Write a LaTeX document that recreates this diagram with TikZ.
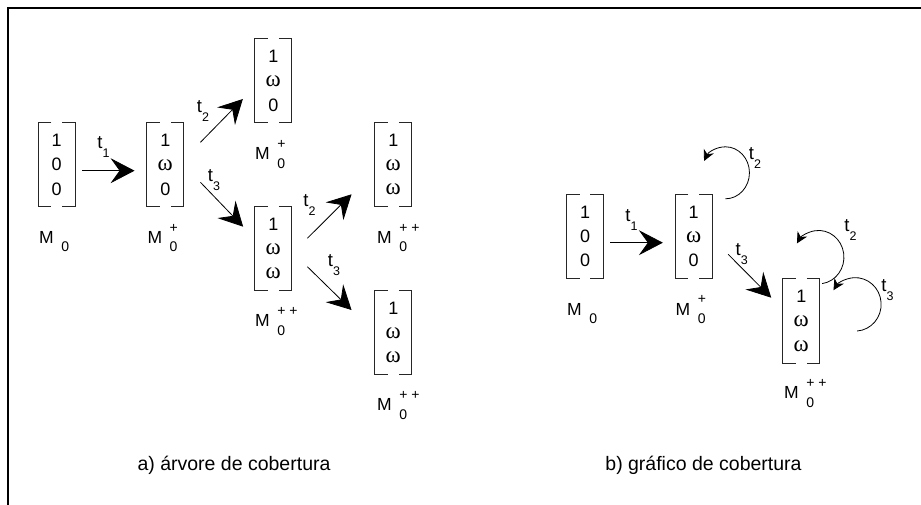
\documentclass[tikz,border=0pt]{standalone}
\usepackage{fontspec}
\setmainfont{Liberation Sans}
\newfontfamily\omegafont{Liberation Serif}
\usetikzlibrary{arrows.meta,calc}

% entries and labels
\newcommand{\om}{{\omegafont\fontsize{23}{24.3}\selectfont ω}}
\newcommand{\subsz}{\fontsize{12.5}{12.5}\selectfont}
\newcommand{\supsz}{\fontsize{14}{14}\selectfont}
\newcommand{\mk}[1]{M\kern7.5pt\rlap{\raisebox{11.1pt}{\supsz #1}}\raisebox{-8.7pt}{\supsz 0}}
\newcommand{\tl}[1]{t\rlap{\raisebox{-9pt}{\subsz #1}}}

\begin{document}
\begin{tikzpicture}[x=1pt,y=1pt,
  vec/.style={minimum width=36.5pt, minimum height=84pt, inner sep=0pt, align=center,
              font=\fontsize{18}{24.3}\selectfont},
  brk/.style={line width=0.9pt, black!85},
  mlab/.style={anchor=base west, inner sep=0pt, font=\fontsize{17.5}{17.5}\selectfont},
  tlab/.style={anchor=base, inner sep=0pt, font=\fontsize{18.5}{18.5}\selectfont},
  big/.style={line width=0.8pt, -{Stealth[length=24pt,width=25pt,inset=9pt]}},
  loopy/.style={line width=0.8pt, -{Stealth[length=11pt,width=11pt,inset=3.5pt]}},
  captxt/.style={font=\fontsize{19.5}{20}\selectfont, inner sep=0pt}]

\useasboundingbox (0,0) rectangle (921,-505);

% frame
\draw[line width=2.3pt] (7.8,-505) -- (7.8,-7.8) -- (921,-7.8);

% a) coverage tree
\node[vec] (a0) at (56.7,-164.7) {1\\0\\0};
\node[vec] (a1) at (165.3,-164.7) {1\\\om\\0};
\node[vec] (a2) at (273.3,-80.7) {1\\\om\\0};
\node[vec] (a3) at (273.3,-248.3) {1\\\om\\\om};
\node[vec] (a4) at (393.3,-164.5) {1\\\om\\\om};
\node[vec] (a5) at (393.3,-332.5) {1\\\om\\\om};

% b) coverage graph
\node[vec] (b0) at (585,-236.3) {1\\0\\0};
\node[vec] (b1) at (693.7,-236.3) {1\\\om\\0};
\node[vec] (b2) at (801.3,-320.8) {1\\\om\\\om};

% square brackets round every vector
\foreach \n in {a0,a1,a2,a3,a4,a5,b0,b1,b2}{
  \draw[brk] ([xshift=13pt]\n.north west) -| (\n.south west) -- ++(13pt,0);
  \draw[brk] ([xshift=-13pt]\n.north east) -| (\n.south east) -- ++(-13pt,0);
}

% marking labels
\node[mlab] (la0) at (39,-243.3) {\mk{}};
\node[mlab] (la1) at (147.3,-243.3) {\mk{+}};
\node[mlab] (la2) at (255,-160) {\mk{+}};
\node[mlab] (la3) at (255,-326.7) {\mk{+ +}};
\node[mlab] (la4) at (377,-243.3) {\mk{+ +}};
\node[mlab] (la5) at (377,-410.5) {\mk{+ +}};
\node[mlab] (lb0) at (567,-315) {\mk{}};
\node[mlab] (lb1) at (675.5,-315) {\mk{+}};
\node[mlab] (lb2) at (784,-398.5) {\mk{+ +}};

% transitions of the tree
\draw[big] ($(a0.east)+(7.3,-6)$) -- ($(a1.west)+(-12.3,-6)$);
\draw[big] ($(a1.east)+(16.7,22.4)$) -- ($(a2.west)+(-12,-18.3)$);
\draw[big] ($(a1.east)+(16.7,-17.6)$) -- ($(a3.west)+(-11.7,21.6)$);
\draw[big] ($(a3.east)+(15.6,10)$) -- ($(a4.west)+(-23.3,-29.8)$);
\draw[big] ($(a3.east)+(15.6,-18.4)$) -- ($(a5.west)+(-23.3,22.5)$);

\node[tlab] (ta1) at (100,-148.5) {\tl{1}};
\node[tlab] (ta2) at (199.5,-113) {\tl{2}};
\node[tlab] (ta3) at (210.5,-181.7) {\tl{3}};
\node[tlab] (ta4) at (306,-206.7) {\tl{2}};
\node[tlab] (ta5) at (330.5,-266) {\tl{3}};

% transitions of the graph
\draw[big] ($(b0.east)+(6.7,-6.4)$) -- ($(b1.west)+(-12.4,-6.4)$);
\draw[big] ($(b1.east)+(16,-18)$) -- ($(b2.west)+(-11.6,23.1)$);

\coordinate (l1) at ($(b1.north east)+(13.3,-4.7)$);
\coordinate (l2) at ($(b2.north east)+(2.4,-5)$);
\coordinate (l3) at ($(b2.north east)+(37.4,-52.4)$);
\draw[loopy] (l1) arc[start angle=-90, end angle=153, x radius=24, y radius=26];
\draw[loopy] (l2) arc[start angle=-82, end angle=149, x radius=25.3, y radius=26.7];
\draw[loopy] (l3) arc[start angle=-86, end angle=148, x radius=25.8, y radius=26.7];

\node[tlab] (tb1) at (628,-221.7) {\tl{1}};
\node[tlab] (tb3) at (738.3,-255) {\tl{3}};
\node[tlab] (tl1) at (751.5,-160) {\tl{2}};
\node[tlab] (tl2) at (847,-231.7) {\tl{2}};
\node[tlab] (tl3) at (884,-291.7) {\tl{3}};

% captions
\node[captxt] (capa) at (234,-465) {a) árvore de cobertura};
\node[captxt] (capb) at (703.5,-465) {b) gráfico de cobertura};
\end{tikzpicture}
\end{document}
